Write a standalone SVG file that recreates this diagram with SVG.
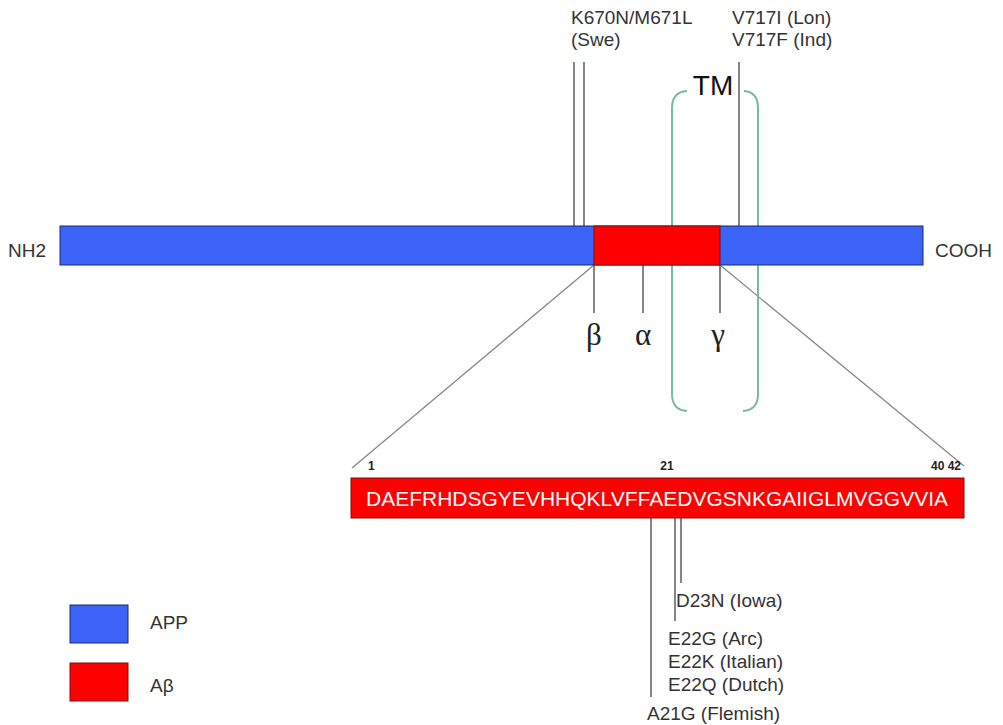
<svg xmlns="http://www.w3.org/2000/svg" width="1003" height="725" viewBox="0 0 1003 725">
<style>
.t{font-family:"Liberation Sans",Arial,sans-serif;fill:#333;font-size:19px}
.g{font-family:"Liberation Serif","Times New Roman",serif;fill:#222;font-size:31px}
.ln{stroke:#444;stroke-width:1.3;fill:none}
.dg{stroke:#888;stroke-width:1.3;fill:none}
.app{fill:#3b63f7;stroke:#1a2a6a;stroke-width:1}
.ab{fill:#ff0000;stroke:#7a1010;stroke-width:1}
.tm{stroke:#7ab8a4;stroke-width:2;fill:none}
.n{font-family:"Liberation Sans",Arial,sans-serif;font-weight:bold;fill:#222;font-size:12px}
</style>
<rect width="1003" height="725" fill="#fff"/>
<g id="connectors">
<line class="ln" x1="574" y1="62" x2="574" y2="226"/>
<line class="ln" x1="584" y1="62" x2="584" y2="226"/>
<line class="ln" x1="739" y1="62" x2="739" y2="226"/>
<line class="ln" x1="594" y1="265" x2="594" y2="313"/>
<line class="ln" x1="643" y1="246" x2="643" y2="313"/>
<line class="ln" x1="720" y1="265" x2="720" y2="313"/>
<line class="dg" x1="594" y1="265" x2="352" y2="468"/>
<line class="dg" x1="720" y1="265" x2="964" y2="466"/>
<line class="ln" x1="651" y1="518" x2="651" y2="697"/>
<line class="ln" x1="675" y1="518" x2="675" y2="621"/>
<line class="ln" x1="681" y1="518" x2="681" y2="583"/>
</g>
<g id="tm">
<path class="tm" d="M687,91 Q672,92 672,108 L672,394 Q672,410 687,411"/>
<path class="tm" d="M744,91 Q758,92 758,108 L758,394 Q758,410 743,411"/>
<text x="713" y="95" text-anchor="middle" style="font-family:'Liberation Sans',Arial,sans-serif;font-size:28px;fill:#111">TM</text>
</g>
<g id="app">
<rect class="app" x="60" y="226" width="863" height="39"/>
<rect class="ab" x="594" y="226" width="126" height="39"/>
<text class="t" x="8" y="257">NH2</text>
<text class="t" x="935" y="257">COOH</text>
</g>
<g id="swe"><text class="t" x="571" y="24">K670N/M671L</text><text class="t" x="571" y="46">(Swe)</text></g>
<g id="v717"><text class="t" x="732" y="24">V717I (Lon)</text><text class="t" x="732" y="46">V717F (Ind)</text></g>
<g id="secretases">
<text class="g" x="594" y="345" text-anchor="middle">β</text>
<text class="g" x="643" y="345" text-anchor="middle">α</text>
<text class="g" x="718" y="345" text-anchor="middle">γ</text>
</g>
<g id="abeta">
<text class="n" x="368" y="470">1</text>
<text class="n" x="667" y="470" text-anchor="middle">21</text>
<text class="n" x="961" y="470" text-anchor="end">40 42</text>
<rect class="ab" x="351" y="478" width="613" height="40"/>
<text x="366" y="506" style="font-family:'Liberation Sans',Arial,sans-serif;font-size:21px;fill:#fff" textLength="582" lengthAdjust="spacingAndGlyphs">DAEFRHDSGYEVHHQKLVFFAEDVGSNKGAIIGLMVGGVVIA</text>
</g>
<g id="mutations">
<text class="t" x="676" y="607">D23N (Iowa)</text>
<text class="t" x="668" y="645">E22G (Arc)</text>
<text class="t" x="668" y="668">E22K (Italian)</text>
<text class="t" x="668" y="691">E22Q (Dutch)</text>
<text class="t" x="647" y="720">A21G (Flemish)</text>
</g>
<g id="legend">
<rect class="app" x="70" y="605" width="58" height="38"/>
<text class="t" x="150" y="629">APP</text>
<rect class="ab" x="70" y="663" width="58" height="38"/>
<text class="t" x="150" y="692">Aβ</text>
</g>
</svg>
